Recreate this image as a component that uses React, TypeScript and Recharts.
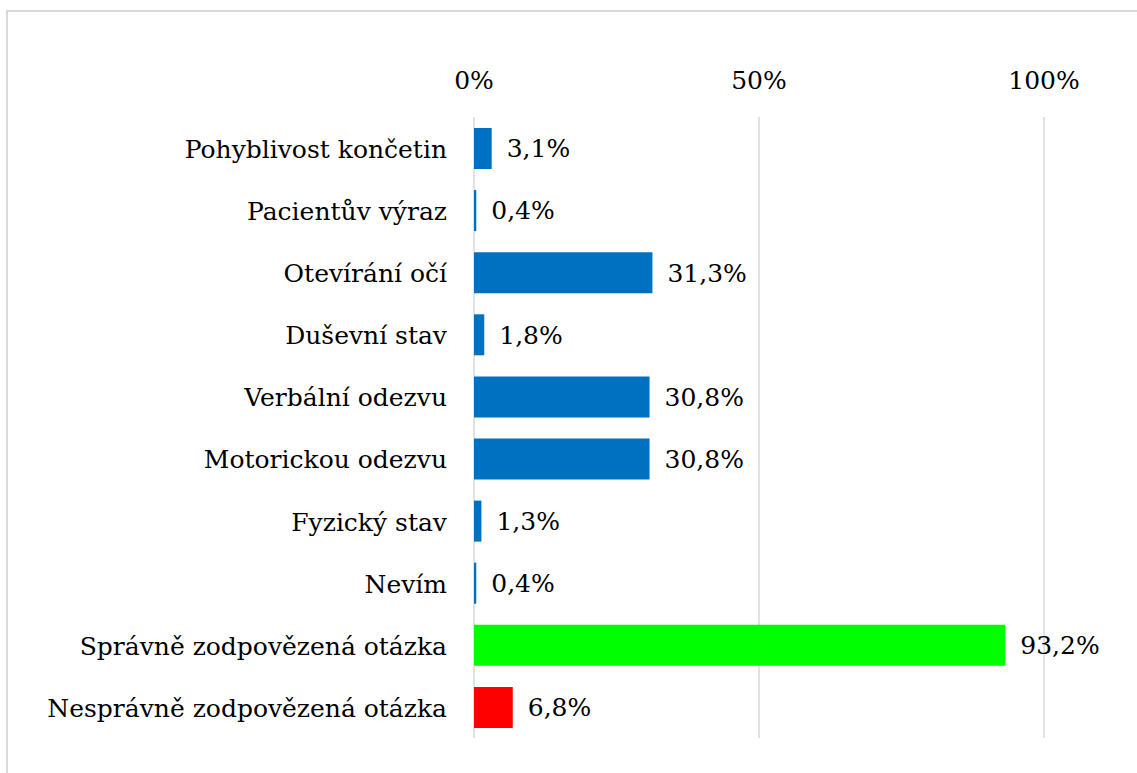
import { BarChart, Bar, XAxis, YAxis, CartesianGrid, Cell, LabelList } from 'recharts';

const categories = [
  'Pohyblivost končetin',
  'Pacientův výraz',
  'Otevírání očí',
  'Duševní stav',
  'Verbální odezvu',
  'Motorickou odezvu',
  'Fyzický stav',
  'Nevím',
  'Správně zodpovězená otázka',
  'Nesprávně zodpovězená otázka',
];
const values = [3.1, 0.4, 31.3, 1.8, 30.8, 30.8, 1.3, 0.4, 93.2, 6.8];
const barColors = ['#0070C0', '#0070C0', '#0070C0', '#0070C0', '#0070C0', '#0070C0', '#0070C0', '#0070C0', '#00FF00', '#FF0000'];
const xTicks = [0, 50, 100];

const data = categories.map((name, i) => ({ name, value: values[i], color: barColors[i] }));

const font = 'DejaVu Serif, serif';
const fs = 25;

const App = () => {
  return (
    <div style={{ position: 'absolute', left: 0, top: 0, width: 1137, height: 773, overflow: 'hidden', background: '#fff', fontFamily: font }}>
      {/* chart border */}
      <div
        style={{
          position: 'absolute',
          left: 6,
          top: 10,
          width: 1200,
          height: 900,
          border: '2px solid #d9d9d9',
        }}
      />
      <div style={{ position: 'absolute', left: 0, top: 0 }}>
        <BarChart
          width={1137}
          height={773}
          data={data}
          layout="vertical"
          margin={{ top: 77, right: 93, bottom: 35, left: 0 }}
        >
          <CartesianGrid horizontal={false} stroke="#d9d9d9" strokeWidth={1.5} />
          <XAxis
            type="number"
            orientation="top"
            domain={[0, 100]}
            ticks={xTicks}
            height={40}
            axisLine={false}
            tickLine={false}
            tickSize={0}
            tickMargin={28}
            tickFormatter={(v) => `${v}%`}
            tick={{ fill: '#000', fontSize: fs, fontFamily: font }}
          />
          <YAxis
            type="category"
            dataKey="name"
            width={474}
            axisLine={false}
            tickLine={false}
            tickSize={0}
            tickMargin={27}
            interval={0}
            tick={{ fill: '#000', fontSize: fs, fontFamily: font, dy: 1 }}
          />
          <Bar dataKey="value" barSize={41} isAnimationActive={false}>
            {data.map((entry, index) => (
              <Cell key={`cell-${index}`} fill={entry.color} />
            ))}
            <LabelList
              dataKey="value"
              position="right"
              offset={15}
              formatter={(v: number) => `${String(v.toFixed(1)).replace('.', ',')}%`}
              style={{ fill: '#000', fontSize: fs, fontFamily: font }}
            />
          </Bar>
        </BarChart>
      </div>
    </div>
  );
};

export default App;
